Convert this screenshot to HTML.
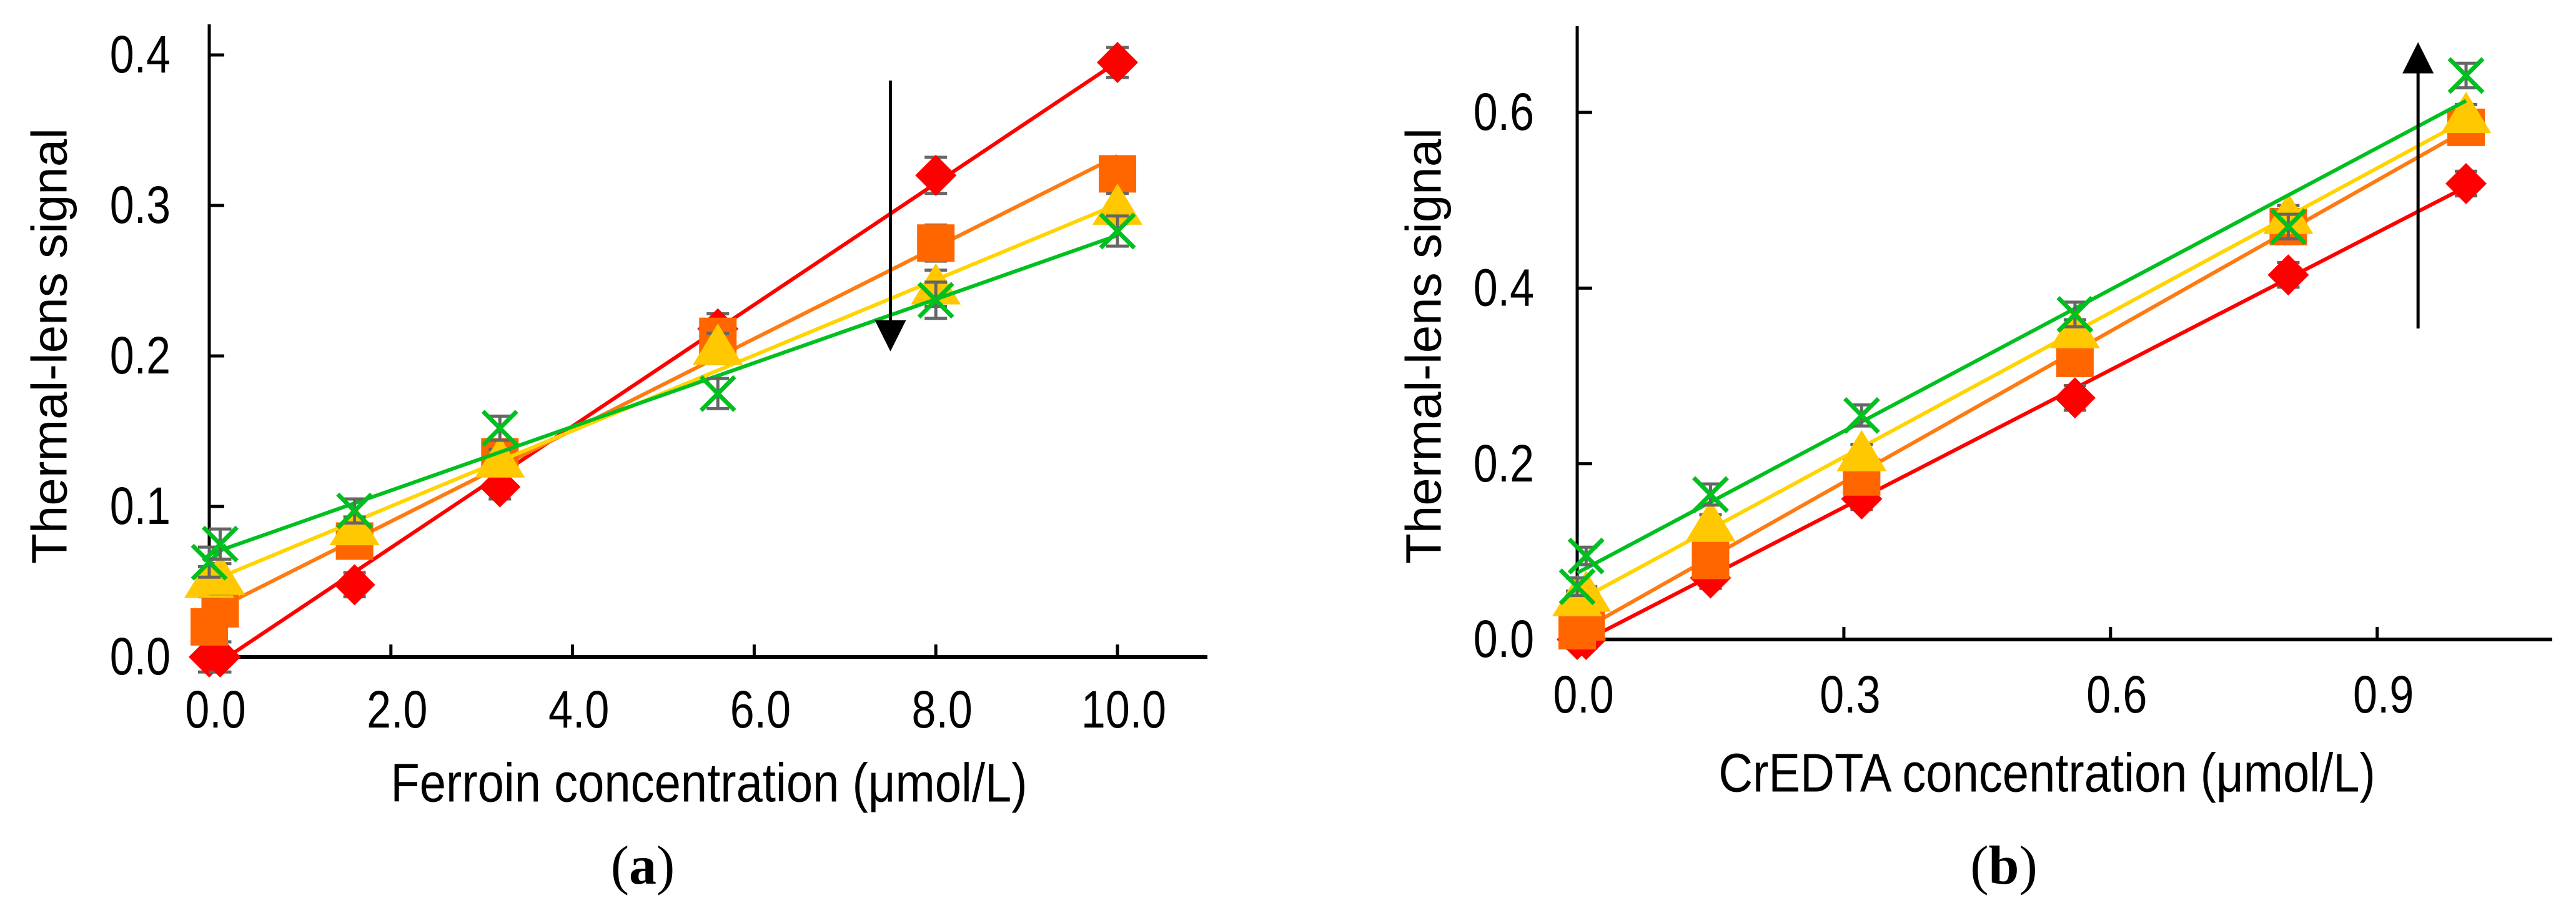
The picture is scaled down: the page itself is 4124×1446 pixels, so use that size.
<!DOCTYPE html>
<html><head><meta charset="utf-8"><style>
html,body{margin:0;padding:0;background:#fff;}
svg{display:block;}
text{font-family:"Liberation Sans",Arial,sans-serif;fill:#000;}
</style></head><body>
<svg id="fig" width="4124" height="1446" viewBox="0 0 4124 1446" xmlns="http://www.w3.org/2000/svg"></svg>
<script>
// ---- Panel (a) data: Ferroin ----
const aX = [0, 0.12, 1.6, 3.2, 5.6, 8.0, 10.0];
const aRed = [0, 0, 0.048, 0.113, 0.218, 0.320, 0.395];
const aOrange = [0.020, 0.032, 0.077, 0.133, 0.213, 0.275, 0.321];
const aYellow = [0.050, 0.052, 0.085, 0.130, 0.205, 0.245, 0.298];
const aGreen = [0.063, 0.075, 0.097, 0.152, 0.175, 0.237, 0.283];
const aErr = [0.010, 0.010, 0.008, 0.008, 0.010, 0.012, 0.010];
const aXTicks = [0, 2, 4, 6, 8, 10];
const aXTickLabels = ["0.0", "2.0", "4.0", "6.0", "8.0", "10.0"];
const aYTicks = [0, 0.1, 0.2, 0.3, 0.4];
const aYTickLabels = ["0.0", "0.1", "0.2", "0.3", "0.4"];
const aArrow = [7.5, 0.383, 0.203];
// ---- Panel (b) data: CrEDTA ----
const bX = [0, 0.01, 0.15, 0.32, 0.56, 0.80, 1.00];
const bRed = [0, 0, 0.070, 0.160, 0.275, 0.415, 0.519];
const bOrange = [0.010, 0.020, 0.090, 0.185, 0.320, 0.470, 0.583];
const bYellow = [0.045, 0.050, 0.130, 0.210, 0.350, 0.480, 0.595];
const bGreen = [0.060, 0.095, 0.165, 0.255, 0.370, 0.470, 0.642];
const bErr = [0.010, 0.010, 0.012, 0.012, 0.014, 0.014, 0.014];
const bXTicks = [0, 0.3, 0.6, 0.9];
const bXTickLabels = ["0.0", "0.3", "0.6", "0.9"];
const bYTicks = [0, 0.2, 0.4, 0.6];
const bYTickLabels = ["0.0", "0.2", "0.4", "0.6"];
const bArrow = [0.946, 0.354, 0.680];

const NS = "http://www.w3.org/2000/svg";
const svg = document.getElementById("fig");
function el(tag, attrs, parent, txt){
  const e = document.createElementNS(NS, tag);
  for (const k in attrs) e.setAttribute(k, attrs[k]);
  if (txt !== undefined) e.textContent = txt;
  (parent || svg).appendChild(e);
  return e;
}
function fit(xs, ys){
  const n = xs.length; let sx=0,sy=0,sxx=0,sxy=0;
  for (let i=0;i<n;i++){sx+=xs[i];sy+=ys[i];sxx+=xs[i]*xs[i];sxy+=xs[i]*ys[i];}
  const m=(n*sxy-sx*sy)/(n*sxx-sx*sx); return [m,(sy-m*sx)/n];
}
function marker(g, type, cx, cy, color){
  let m;
  if (type==="diamond"){
    m = el("polygon",{points:`${cx},${cy-33} ${cx+33},${cy} ${cx},${cy+33} ${cx-33},${cy}`,fill:color},g);
  } else if (type==="square"){
    m = el("rect",{x:cx-30,y:cy-30,width:60,height:60,fill:color},g);
  } else if (type==="triangle"){
    m = el("polygon",{points:`${cx},${cy-40} ${cx+40},${cy+26} ${cx-40},${cy+26}`,fill:color},g);
  } else {
    m = el("path",{d:`M${cx-27},${cy-27}L${cx+27},${cy+27}M${cx+27},${cy-27}L${cx-27},${cy+27}`,stroke:color,"stroke-width":7,fill:"none"},g);
  }
  
  
}
function panel(cfg){
  const g = el("g",{});
  
  
  const sx = v => cfg.x0 + (v - cfg.xmin)/(cfg.xmax-cfg.xmin)*(cfg.x1-cfg.x0);
  const sy = v => cfg.y0 - (v - cfg.ymin)/(cfg.ymax-cfg.ymin)*(cfg.y0-cfg.y1);
  const ya = el("line",{x1:cfg.x0,y1:cfg.y0,x2:cfg.x0,y2:cfg.axisTop,stroke:"#000","stroke-width":5},g);
   
  const xa = el("line",{x1:cfg.x0,y1:cfg.y0,x2:cfg.axisRight,y2:cfg.y0,stroke:"#000","stroke-width":6},g);
   
  cfg.xticks.forEach((v,i)=>{
    const x = sx(v);
    if (v !== cfg.xmin){
      const t = el("line",{x1:x,y1:cfg.y0,x2:x,y2:cfg.y0-20,stroke:"#000","stroke-width":5},g);
       
    }
    const l = el("text",{x:0,y:0,"font-size":70,"text-anchor":"middle","dominant-baseline":"central",transform:`translate(${x+10},${cfg.xLabelY}) scale(1,1.2)`},g,cfg.xlabels[i]);
     
  });
  cfg.yticks.forEach((v,i)=>{
    const y = sy(v);
    const t = el("line",{x1:cfg.x0,y1:y,x2:cfg.x0+24,y2:y,stroke:"#000","stroke-width":5},g);
     
    const l = el("text",{x:0,y:0,"font-size":70,"text-anchor":"end","dominant-baseline":"central",transform:`translate(${cfg.yLabelX},${y}) scale(1,1.2)`},g,cfg.ylabels[i]);
     
  });
  const yt = el("text",{x:0,y:0,"font-size":80,"text-anchor":"middle","dominant-baseline":"central",transform:`translate(${cfg.yTitleX},${cfg.yTitleY}) rotate(-90)`},g,"Thermal-lens signal");
   
  const xt = el("text",{x:0,y:0,"font-size":76,"text-anchor":"middle","dominant-baseline":"central",transform:`translate(${cfg.xTitleX},${cfg.xTitleY}) scale(1,1.15)`},g,cfg.xTitle);
   
  const cap = el("text",{x:cfg.capX,y:cfg.capY,"font-size":88,"text-anchor":"middle","dominant-baseline":"central",style:'font-family:"Liberation Serif",serif'},g);
   
  el("tspan",{},cap,"(");
  el("tspan",{"font-weight":"bold"},cap,cfg.cap);
  el("tspan",{},cap,")");
  cfg.series.forEach(s=>{
    const sg = el("g",{},g);
    
    
    const [m,b] = fit(cfg.xs, s.ys);
    const xA = cfg.xs[0], xB = cfg.xs[cfg.xs.length-1];
    const ln = el("line",{x1:sx(xA),y1:sy(m*xA+b),x2:sx(xB),y2:sy(m*xB+b),stroke:s.line,"stroke-width":6},sg);
     
    cfg.xs.forEach((xv,i)=>{
      const x = sx(xv), yv = s.ys[i], e = cfg.err[i];
      const eg = el("path",{d:`M${x},${sy(yv+e)}L${x},${sy(yv-e)}M${x-18},${sy(yv+e)}L${x+18},${sy(yv+e)}M${x-18},${sy(yv-e)}L${x+18},${sy(yv-e)}`,stroke:"#666","stroke-width":5,fill:"none"},sg);
       
      marker(sg, s.type, x, sy(yv), s.color);
    });
  });
  const ax = sx(cfg.arrow[0]), ya1 = sy(cfg.arrow[1]), ya2 = sy(cfg.arrow[2]);
  const dir = ya2 > ya1 ? 1 : -1;
  const ag = el("g",{},g);
   
  el("line",{x1:ax,y1:ya1,x2:ax,y2:ya2-dir*45,stroke:"#000","stroke-width":5},ag);
  el("polygon",{points:`${ax},${ya2} ${ax-25},${ya2-dir*50} ${ax+25},${ya2-dir*50}`,fill:"#000"},ag);
}
panel({name:"panel-a-ferroin", x0:335, x1:1789, xmin:0, xmax:10, y0:1052, y1:88, ymin:0, ymax:0.4,
  axisTop:39, axisRight:1933, xs:aX, err:aErr,
  xticks:aXTicks, xlabels:aXTickLabels, yticks:aYTicks, ylabels:aYTickLabels,
  xLabelY:1137, yLabelX:273, yTitleX:79, yTitleY:554, xTitleX:1135, xTitleY:1254,
  xTitle:"Ferroin concentration (μmol/L)", capX:1029, capY:1386, cap:"a", arrow:aArrow,
  series:[
    {name:"red", ys:aRed, type:"diamond", color:"#ff0000", line:"#ff0000"},
    {name:"orange", ys:aOrange, type:"square", color:"#ff6600", line:"#ff7a10"},
    {name:"yellow", ys:aYellow, type:"triangle", color:"#ffc800", line:"#ffd400"},
    {name:"green", ys:aGreen, type:"cross", color:"#00c020", line:"#00c020"}]});
panel({name:"panel-b-credta", x0:2525, x1:3948, xmin:0, xmax:1.0, y0:1024, y1:180, ymin:0, ymax:0.6,
  axisTop:42, axisRight:4086, xs:bX, err:bErr,
  xticks:bXTicks, xlabels:bXTickLabels, yticks:bYTicks, ylabels:bYTickLabels,
  xLabelY:1113, yLabelX:2456, yTitleX:2279, yTitleY:554, xTitleX:3277, xTitleY:1238,
  xTitle:"CrEDTA concentration (μmol/L)", capX:3208, capY:1386, cap:"b", arrow:bArrow,
  series:[
    {name:"red", ys:bRed, type:"diamond", color:"#ff0000", line:"#ff0000"},
    {name:"orange", ys:bOrange, type:"square", color:"#ff6600", line:"#ff7a10"},
    {name:"yellow", ys:bYellow, type:"triangle", color:"#ffc800", line:"#ffd400"},
    {name:"green", ys:bGreen, type:"cross", color:"#00c020", line:"#00c020"}]});
</script>
</body></html>
